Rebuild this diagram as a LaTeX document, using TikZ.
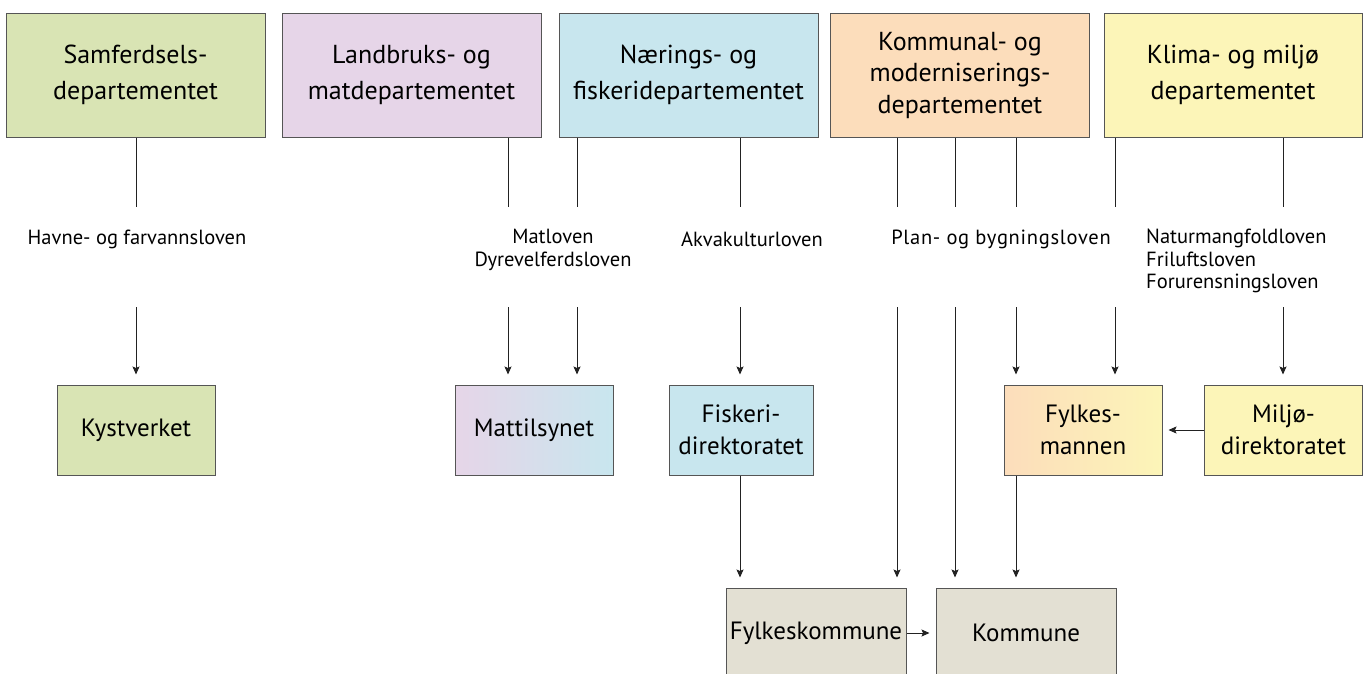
\documentclass[tikz,border=0pt]{standalone}
\usepackage{fontspec}
\setmainfont{PT Sans}
\usetikzlibrary{arrows.meta}
\definecolor{cgreen}{HTML}{D9E4B4}
\definecolor{cpink}{HTML}{E6D5E8}
\definecolor{cblue}{HTML}{C8E6EE}
\definecolor{corange}{HTML}{FCDDBB}
\definecolor{cyellow}{HTML}{FCF5B8}
\definecolor{cgrey}{HTML}{E3E0D3}
\definecolor{cline}{HTML}{222222}
\definecolor{cborder}{HTML}{555555}
\tikzset{
  box/.style={draw=cborder, line width=1pt, align=center, inner sep=0pt, font=\fontsize{25}{32}\selectfont},
  topbox/.style={box, minimum width=259pt, minimum height=124pt, font=\fontsize{26}{36}\selectfont},
  midbox/.style={box, minimum width=158pt, minimum height=90pt},
  botbox/.style={box, minimum width=180pt, minimum height=90pt, fill=cgrey},
  lawlabel/.style={font=\fontsize{20.5}{22.5}\selectfont, inner sep=0pt},
  conn/.style={draw=cline, line width=1pt},
  arr/.style={conn, -{Stealth[length=8pt,width=7pt,inset=1.5pt]}, shorten >=10pt},
}
\begin{document}
\begin{tikzpicture}[x=1pt,y=-1pt]
\useasboundingbox (0,0) rectangle (1363,673);
% top ministries
\node[topbox, fill=cgreen]  (samf)  at (135.5,75) {Samferdsels-\\departementet};
\node[topbox, fill=cpink]   (land)  at (411.5,75) {Landbruks- og\\matdepartementet};
\node[topbox, fill=cblue]   (naer)  at (688.5,75) {Nærings- og\\fiskeridepartementet};
\node[topbox, fill=corange, font=\fontsize{26}{31.5}\selectfont] (komm)  at (960,75)   {Kommunal- og\\moderniserings-\\departementet};
\node[topbox, fill=cyellow, minimum width=258pt] (klima) at (1233,75) {Klima- og miljø\\departementet};
% agencies
\node[midbox, fill=cgreen] (kyst) at (136,430) {Kystverket};
\node[midbox, left color=cpink, right color=cblue] (matt) at (534,430) {Mattilsynet};
\node[midbox, fill=cblue, minimum width=144pt] (fisk) at (741,430) {Fiskeri-\\direktoratet};
\node[midbox, left color=corange, right color=cyellow] (fylm) at (1083,430) {Fylkes-\\mannen};
\node[midbox, fill=cyellow] (milj) at (1283.5,430) {Miljø-\\direktoratet};
% local level
\node[botbox] (fylk) at (816,633) {Fylkeskommune};
\node[botbox] (kom)  at (1026,633) {Kommune};
% law labels
\node[lawlabel] (lhavn) at (137,239) {Havne- og farvannsloven};
\node[lawlabel, align=center, anchor=north] (lmat) at (553,229) {Matloven\\Dyrevelferdsloven};
\node[lawlabel] (lakva) at (752,239) {Akvakulturloven};
\node[lawlabel] (lplan) at (1001,239) {\addfontfeature{LetterSpace=3.5}Plan- og bygningsloven};
\node[lawlabel, align=left, anchor=north west] (lnat) at (1146,229) {Naturmangfoldloven\\Friluftsloven\\Forurensningsloven};
% gap coordinates
\coordinate (gt) at (0,207);
\coordinate (gb) at (0,307);
\coordinate (x1) at (136,0);
\coordinate (x2) at (508,0);
\coordinate (x3) at (577,0);
\coordinate (x4) at (740,0);
\coordinate (x5) at (897,0);
\coordinate (x6) at (955,0);
\coordinate (x7) at (1016,0);
\coordinate (x8) at (1115,0);
\coordinate (x9) at (1283,0);
% upper segments
\foreach \xx/\src in {x1/samf,x2/land,x3/land,x4/naer,x5/komm,x6/komm,x7/komm,x8/klima,x9/klima}{
  \draw[conn] (\xx |- \src.south) -- (\xx |- gt);
}
% lower segments with arrows
\draw[arr] (x1 |- gb) -- (x1 |- kyst.north);
\draw[arr] (x2 |- gb) -- (x2 |- matt.north);
\draw[arr] (x3 |- gb) -- (x3 |- matt.north);
\draw[arr] (x4 |- gb) -- (x4 |- fisk.north);
\draw[arr] (x5 |- gb) -- (x5 |- fylk.north);
\draw[arr] (x6 |- gb) -- (x6 |- kom.north);
\draw[arr] (x7 |- gb) -- (x7 |- fylm.north);
\draw[arr] (x8 |- gb) -- (x8 |- fylm.north);
\draw[arr] (x9 |- gb) -- (x9 |- milj.north);
% agency to local
\draw[arr] (x4 |- fisk.south) -- (x4 |- fylk.north);
\draw[arr] (x7 |- fylm.south) -- (x7 |- kom.north);
% horizontal
\draw[arr, shorten >=6pt] (milj.west) -- (fylm.east);
\draw[arr, shorten >=6pt] (fylk.east) -- (kom.west);
\end{tikzpicture}
\end{document}
